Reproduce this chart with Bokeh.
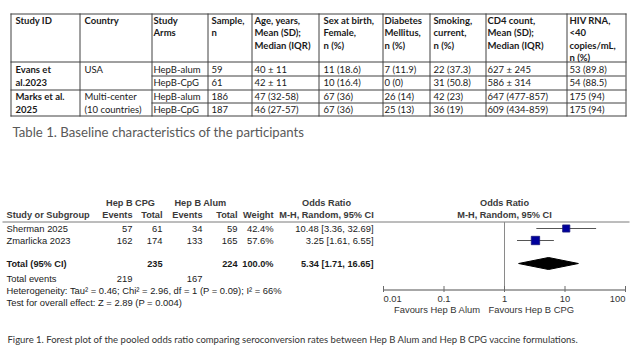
from bokeh.plotting import figure
from bokeh.models import ColumnDataSource, Range1d, LogScale
from bokeh.core.properties import value
from bokeh.embed import file_html
from bokeh.resources import INLINE

# ---------------- data: Table 1 ----------------
table_headers = [["Study ID"], ["Country"], ["Study", "Arms"], ["Sample,", "n"],
                 ["Age, years,", "Mean (SD);", "Median (IQR)"],
                 ["Sex at birth,", "Female,", "n (%)"],
                 ["Diabetes", "Mellitus,", "n (%)"],
                 ["Smoking,", "current,", "n (%)"],
                 ["CD4 count,", "Mean (SD);", "Median (IQR)"],
                 ["HIV RNA,", "<40", "copies/mL,", "n (%)"]]
study_ids = [["Evans et", "al.2023"], ["Marks et al.", "2025"]]
countries = [["USA"], ["Multi-center", "(10 countries)"]]
arms = ["HepB-alum", "HepB-CpG", "HepB-alum", "HepB-CpG"]
sample_n = ["59", "61", "186", "187"]
age = ["40 ± 11", "42 ± 11", "47 (32-58)", "46 (27-57)"]
female = ["11 (18.6)", "10 (16.4)", "67 (36)", "67 (36)"]
diabetes = ["7 (11.9)", "0 (0)", "26 (14)", "25 (13)"]
smoking = ["22 (37.3)", "31 (50.8)", "42 (23)", "36 (19)"]
cd4 = ["627 ± 245", "586 ± 314", "647 (477-857)", "609 (434-859)"]
hiv_rna = ["53 (89.8)", "54 (88.5)", "175 (94)", "175 (94)"]
table_caption = "Table 1. Baseline characteristics of the participants"

# ---------------- data: forest plot ----------------
fp_studies = ["Sherman 2025", "Zmarlicka 2023"]
cpg_events = [57, 162]
cpg_total = [61, 174]
alum_events = [34, 133]
alum_total = [59, 165]
weights = [42.4, 57.6]
odds_ratio = [10.48, 3.25]
ci_low = [3.36, 1.61]
ci_high = [32.69, 6.55]
pooled = [5.34, 1.71, 16.65]
total_cpg, total_alum = 235, 224
events_cpg, events_alum = 219, 167
heterogeneity = "Heterogeneity: Tau\u00b2 = 0.46; Chi\u00b2 = 2.96, df = 1 (P = 0.09); I\u00b2 = 66%"
overall_effect = "Test for overall effect: Z = 2.89 (P = 0.004)"
axis_ticks = [0.01, 0.1, 1, 10, 100]
axis_tick_labels = ["0.01", "0.1", "1", "10", "100"]
favours = ["Favours Hep B Alum", "Favours Hep B CPG"]
figure_caption = ("Figure 1. Forest plot of the pooled odds ratio comparing seroconversion rates "
                  "between Hep B Alum and Hep B CPG vaccine formulations.")

# ---------------- layout (page pixel coordinates) ----------------
W, H = 633, 361
p = figure(width=W, height=H, x_range=Range1d(0, W), y_range=Range1d(H, 0),
           output_backend="svg", toolbar_location=None, min_border=0,
           x_axis_location=None, y_axis_location=None)
p.grid.visible = False
p.outline_line_color = None
p.background_fill_color = "white"

one_x, decade = 504.0, 60.5
p.extra_x_ranges = {"log": Range1d(10 ** ((0 - one_x) / decade), 10 ** ((W - one_x) / decade))}
p.extra_x_scales = {"log": LogScale()}

TF = value("Lato")
AF = value("Liberation Sans")

# ----- table grid -----
col_x = [10, 79, 151, 207, 251, 318, 382, 429, 485, 566, 625]
top, head_bot, mid1, row_sep, mid2, bot = 13, 61, 75, 89, 102, 115
hx0, hx1, hy = [], [], []
for y in (top, head_bot, row_sep, bot):
    hx0.append(col_x[0]); hx1.append(col_x[-1] + 1); hy.append(y + 0.5)
for y in (mid1, mid2):
    hx0.append(col_x[2]); hx1.append(col_x[-1]); hy.append(y + 0.5)
p.segment(x0=hx0, y0=hy, x1=hx1, y1=hy, line_color="#404040", line_width=1)
vx = [c + 0.5 for c in col_x]
p.segment(x0=vx, y0=[top] * len(vx), x1=vx, y1=[bot + 1] * len(vx), line_color="#404040", line_width=1)

text_x = [15, 84, 153, 211, 254, 323, 384, 433, 487, 569]
head_y0, head_dy = 19.5, 12.6
tx, ty, tt = [], [], []
for cx, lines in zip(text_x, table_headers):
    for i, ln in enumerate(lines):
        tx.append(cx); ty.append(head_y0 + i * head_dy); tt.append(ln)
row_y = [68.5, 82, 95.5, 109]
for k, lines in enumerate(study_ids):
    for i, ln in enumerate(lines):
        tx.append(text_x[0]); ty.append(row_y[2 * k + i]); tt.append(ln)
p.text(x=tx, y=ty, text=tt, text_font=TF, text_font_size="9.5px", text_font_style="bold",
       text_color="#1a1a1a", text_baseline="middle", text_align="left")

bx, by, bt = [], [], []
for k, lines in enumerate(countries):
    for i, ln in enumerate(lines):
        bx.append(text_x[1]); by.append(row_y[2 * k + i]); bt.append(ln)
for j, col in enumerate([arms, sample_n, age, female, diabetes, smoking, cd4, hiv_rna]):
    for r, v in enumerate(col):
        bx.append(text_x[j + 2]); by.append(row_y[r]); bt.append(v)
p.text(x=bx, y=by, text=bt, text_font=TF, text_font_size="9.5px",
       text_color="#1a1a1a", text_baseline="middle", text_align="left")

p.text(x=[12], y=[131], text=[table_caption], text_font=TF, text_font_size="13.2px",
       text_color="#595959", text_baseline="middle")

# ----- forest plot text -----
fs = "9.2px"
fsr = "9.4px"
hdr = dict(text_font=AF, text_font_size=fs, text_font_style="bold", text_color="#3a3a3a",
           text_baseline="middle")
p.text(x=[130, 200, 326, 504], y=[202] * 4,
       text=["Hep B CPG", "Hep B Alum", "Odds Ratio", "Odds Ratio"], text_align="center", **hdr)
p.text(x=[6], y=[214], text=["Study or Subgroup"], text_align="left", **hdr)
p.text(x=[132, 162, 202, 237, 273], y=[214] * 5,
       text=["Events", "Total", "Events", "Total", "Weight"], text_align="right", **hdr)
p.text(x=[326, 504], y=[214] * 2, text=["M-H, Random, 95% CI"] * 2, text_align="center", **hdr)

p.segment(x0=[2], y0=[221.5], x1=[W - 4], y1=[221.5], line_color="#7a7a7a", line_width=1)

row_fy = [228, 240]
body = dict(text_font=AF, text_font_size=fsr, text_color="#1a1a1a", text_baseline="middle")
p.text(x=[6, 6], y=row_fy, text=fp_studies, text_align="left", **body)
num_cols = [(132, [str(v) for v in cpg_events]), (162, [str(v) for v in cpg_total]),
            (202, [str(v) for v in alum_events]), (237, [str(v) for v in alum_total]),
            (273, ["%.1f%%" % w for w in weights]),
            (373, ["%.2f [%.2f, %.2f]" % (o, l, h) for o, l, h in zip(odds_ratio, ci_low, ci_high)])]
for cx, vals in num_cols:
    p.text(x=[cx] * len(vals), y=row_fy, text=vals, text_align="right", **body)

ty_tot = 263
bold = dict(body, text_font_style="bold", text_font_size=fs)
p.text(x=[6], y=[ty_tot], text=["Total (95% CI)"], text_align="left", **bold)
p.text(x=[162, 237, 273, 373], y=[ty_tot] * 4,
       text=[str(total_cpg), str(total_alum), "100.0%",
             "%.2f [%.2f, %.2f]" % tuple(pooled)], text_align="right", **bold)
p.text(x=[6], y=[278], text=["Total events"], text_align="left", **body)
p.text(x=[132, 202], y=[278] * 2, text=[str(events_cpg), str(events_alum)], text_align="right", **body)
p.text(x=[6, 6], y=[290, 302], text=[heterogeneity, overall_effect], text_align="left", **body)

# ----- forest plot graphics (log scale) -----
axis_y = 289.5
p.segment(x0=[1], y0=[221.5], x1=[1], y1=[axis_y], x_range_name="log",
          line_color="#8a8a8a", line_width=1)
p.segment(x0=[axis_ticks[0]], y0=[axis_y], x1=[axis_ticks[-1]], y1=[axis_y], x_range_name="log",
          line_color="#8a8a8a", line_width=1.5)
p.segment(x0=axis_ticks, y0=[285.5] * 5, x1=axis_ticks, y1=[291.5] * 5, x_range_name="log",
          line_color="#6a6a6a", line_width=1)
p.text(x=axis_ticks, y=[298] * 5, text=axis_tick_labels, x_range_name="log",
       text_align=["left", "center", "center", "center", "right"],
       text_font=AF, text_font_size=fsr, text_color="#333333", text_baseline="middle")
p.text(x=[480, 488], y=[309, 309], text=favours, text_align=["right", "left"],
       text_font=AF, text_font_size=fsr, text_color="#333333", text_baseline="middle")

p.segment(x0=ci_low, y0=row_fy, x1=ci_high, y1=row_fy, x_range_name="log",
          line_color="#555555", line_width=1)
sizes = [11.0 * (w / 100.0) ** 0.5 for w in weights]
p.scatter(x=odds_ratio, y=row_fy, size=sizes, marker="square", x_range_name="log",
          fill_color="#00009c", line_color="#1a1a7a", line_width=0.8)
p.patch(x=[pooled[1], pooled[0], pooled[2], pooled[0]],
        y=[ty_tot, ty_tot - 6, ty_tot, ty_tot + 6], x_range_name="log",
        fill_color="black", line_color="black")

# ----- figure caption -----
p.text(x=[7], y=[339], text=[figure_caption], text_font=TF, text_font_size="9.5px",
       text_color="#333333", text_baseline="middle")

open("out.html", "w").write(file_html(p, INLINE))
